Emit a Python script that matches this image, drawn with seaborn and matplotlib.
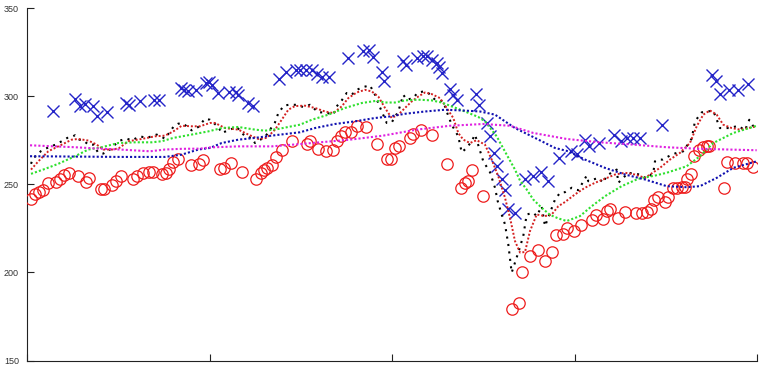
import matplotlib
matplotlib.use("Agg")
import matplotlib.pyplot as plt
import seaborn as sns

# ---- data (x in axis units 0..200, y in value units) ----
circle_x = [0.93, 2.11, 3.29, 4.38, 5.59, 7.78, 8.96, 10.14, 11.51, 13.81,
            16.08, 16.99, 20.19, 21.1, 23.12, 24.38, 25.59, 28.88, 29.97, 31.78,
            33.34, 34.36, 36.82, 37.92, 38.9, 39.84, 41.21, 44.77, 47.04, 48.05,
            52.79, 53.89, 55.73, 58.9, 62.74, 63.95, 64.85, 65.75, 66.96, 68.05,
            69.86, 72.44, 76.6, 77.34, 79.73, 81.84, 83.84, 84.93, 85.86, 87.05,
            88.68, 90.25, 92.74, 95.73, 98.63, 99.64, 100.74, 101.84, 104.85, 105.75,
            107.78, 110.79, 114.9, 118.74, 119.92, 120.82, 121.75, 124.77, 132.71, 134.79,
            135.62, 137.75, 139.84, 141.84, 143.67, 144.77, 146.85, 147.81, 149.78, 151.7,
            154.79, 155.81, 157.86, 158.79, 159.64, 161.75, 163.75, 166.68, 168.49, 169.7,
            170.88, 171.7, 172.79, 174.71, 175.62, 176.99, 177.92, 179.32, 180.19, 180.82,
            181.84, 182.74, 184.11, 185.21, 186.3, 186.85, 190.88, 191.62, 193.89, 196.0,
            197.1, 198.74]
circle_y = [241.8, 244.8, 245.6, 247.1, 250.7, 251.5, 252.8, 255.6, 256.7, 254.6,
            251.2, 253.7, 247.5, 247.5, 249.4, 252.2, 254.6, 253.3, 255.0, 256.6,
            257.3, 257.3, 256.0, 256.6, 258.8, 263.0, 264.5, 261.1, 261.4, 264.1,
            258.8, 259.4, 262.2, 257.1, 253.3, 256.6, 258.0, 259.4, 260.9, 265.6,
            269.8, 274.5, 273.2, 274.5, 270.3, 268.8, 269.4, 274.5, 277.3, 279.8,
            279.8, 283.0, 282.4, 273.2, 264.7, 264.7, 270.7, 272.0, 276.4, 278.8,
            280.7, 277.9, 261.3, 248.1, 250.9, 251.8, 258.0, 243.3, 179.1, 182.4,
            200.3, 209.3, 212.7, 206.5, 211.8, 221.1, 222.0, 225.4, 223.5, 226.9,
            229.7, 232.4, 230.1, 234.8, 236.2, 230.7, 234.5, 233.5, 233.5, 234.5,
            236.2, 241.4, 242.7, 239.9, 243.0, 247.7, 248.1, 248.4, 248.4, 253.3,
            256.0, 266.4, 269.8, 271.1, 271.6, 271.6, 248.1, 262.6, 262.2, 262.2,
            262.2, 259.7]

cross_x = [6.96, 13.07, 14.44, 15.81, 17.92, 19.01, 21.92, 27.04, 27.95, 30.88,
           34.79, 36.0, 42.11, 43.01, 43.95, 46.22, 48.88, 49.78, 50.68, 52.33,
           55.34, 57.18, 57.81, 60.55, 61.92, 69.04, 70.88, 73.62, 74.71, 76.36,
           77.92, 79.29, 80.66, 82.74, 87.78, 91.89, 93.7, 94.79, 97.1, 97.81,
           103.01, 103.75, 106.68, 108.33, 109.42, 110.79, 112.16, 112.88, 113.53, 115.81,
           116.71, 117.64, 122.93, 123.84, 125.86, 126.77, 127.86, 128.82, 129.97, 130.88,
           131.7, 133.62, 136.36, 138.55, 140.74, 142.66, 145.81, 148.96, 150.68, 152.79,
           153.97, 156.71, 160.74, 162.58, 164.22, 166.03, 167.86, 173.81, 187.67, 188.68,
           189.78, 192.33, 194.79, 197.53]
cross_y = [291.8, 298.5, 294.8, 295.5, 294.7, 288.6, 291.1, 296.2, 295.2, 297.5,
           298.1, 297.7, 304.7, 303.7, 303.3, 303.7, 307.5, 307.9, 306.2, 301.9,
           302.2, 302.2, 300.9, 296.5, 294.3, 309.8, 314.1, 315.1, 315.1, 315.1,
           315.1, 312.8, 310.9, 310.9, 321.7, 325.8, 326.4, 322.6, 314.1, 308.8,
           320.2, 317.9, 321.7, 323.0, 323.0, 320.7, 318.9, 316.9, 313.2, 304.3,
           300.9, 298.1, 301.3, 295.3, 284.9, 277.5, 267.8, 260.7, 253.0, 247.1,
           236.3, 233.9, 253.2, 254.5, 256.9, 251.8, 265.2, 268.8, 267.5, 275.0,
           272.0, 273.5, 278.3, 274.5, 276.4, 276.4, 276.4, 283.9, 312.2, 308.8,
           301.3, 303.7, 303.7, 307.0]

black_x = [1.01, 1.64, 2.58, 3.67, 5.04, 6.41, 7.78, 9.42, 10.96, 11.89,
           13.07, 14.25, 15.34, 16.71, 18.08, 19.45, 20.82, 22.66, 24.03, 25.4,
           27.23, 28.6, 30.88, 32.71, 35.45, 37.73, 40.0, 41.37, 42.74, 45.04,
           46.85, 48.68, 50.05, 52.33, 53.26, 55.53, 57.37, 59.64, 61.48, 62.38,
           64.66, 65.59, 67.86, 68.77, 70.33, 71.7, 73.81, 75.62, 77.45, 79.73,
           81.56, 83.84, 84.77, 86.14, 87.51, 88.88, 90.25, 92.05, 93.89, 95.26,
           96.63, 98.47, 99.84, 101.64, 103.01, 103.95, 105.75, 106.85, 108.49, 109.86,
           111.7, 113.97, 114.9, 116.27, 118.08, 119.01, 120.38, 121.75, 122.66, 124.93,
           126.77, 128.14, 128.88, 129.97, 130.88, 131.78, 132.71, 134.52, 135.89, 136.82,
           138.63, 139.56, 140.93, 141.84, 144.58, 145.95, 147.32, 149.15, 150.96, 153.26,
           153.7, 156.44, 157.81, 158.74, 161.48, 161.92, 164.66, 167.86, 169.7, 171.51,
           171.97, 172.88, 174.08, 176.55, 177.92, 179.73, 182.03, 182.93, 184.77, 186.14,
           187.95, 189.78, 192.52, 194.79, 196.63, 197.81, 198.9]
black_y = [261.7, 265.1, 266.4, 268.8, 270.3, 271.6, 272.6, 274.5, 276.4, 276.7,
           277.9, 275.4, 275.0, 272.6, 272.6, 267.9, 267.5, 269.8, 272.6, 274.9,
           276.0, 275.0, 277.3, 276.4, 278.3, 276.0, 282.6, 284.5, 284.5, 280.7,
           282.6, 287.3, 286.7, 282.6, 279.2, 281.1, 282.6, 277.3, 276.4, 273.5,
           276.4, 278.3, 285.2, 290.5, 294.8, 295.2, 295.2, 293.9, 295.2, 290.9,
           290.9, 289.6, 294.3, 297.7, 301.9, 300.9, 303.7, 305.3, 306.2, 300.9,
           293.7, 284.9, 285.2, 291.4, 300.9, 298.1, 299.0, 301.9, 302.8, 301.9,
           298.1, 297.1, 291.4, 283.9, 277.3, 268.2, 270.7, 274.5, 278.3, 263.1,
           256.9, 248.1, 240.5, 232.9, 227.3, 216.0, 199.9, 211.3, 220.7, 232.9,
           233.9, 232.0, 237.6, 226.3, 241.4, 245.2, 245.6, 248.1, 246.7, 255.0,
           251.8, 253.7, 250.9, 255.0, 258.4, 250.9, 256.6, 255.6, 253.3, 256.6,
           263.1, 264.1, 264.1, 266.9, 267.9, 268.8, 276.0, 285.8, 290.9, 291.4,
           291.8, 282.0, 282.0, 283.3, 280.7, 286.7, 283.0]

red_x = [1.01, 3.01, 5.75, 8.49, 12.16, 13.97, 16.71, 19.01, 20.82, 23.56,
         25.21, 27.67, 31.34, 34.99, 37.73, 40.0, 42.3, 45.04, 47.32, 50.05,
         51.42, 54.16, 57.81, 60.55, 63.29, 65.59, 67.86, 69.7, 71.51, 73.34,
         76.08, 78.82, 81.56, 83.84, 86.14, 87.95, 90.25, 92.52, 94.36, 96.16,
         98.0, 99.84, 101.64, 103.48, 105.32, 107.12, 108.96, 110.79, 113.07, 114.9,
         116.71, 118.08, 119.45, 121.29, 123.12, 125.4, 127.23, 129.04, 130.88, 132.25,
         133.62, 134.99, 136.36, 137.73, 139.56, 141.84, 143.67, 145.48, 147.32, 150.05,
         152.79, 155.53, 158.27, 161.01, 163.75, 166.49, 169.23, 171.97, 173.34, 176.08,
         178.82, 181.56, 183.4, 185.21, 187.04, 188.88, 190.68, 192.99, 195.26, 197.53,
         199.84]
red_y = [258.4, 263.1, 268.8, 271.6, 275.4, 275.8, 274.9, 272.6, 269.8, 269.8,
         270.7, 274.5, 275.8, 277.3, 277.7, 280.1, 283.3, 283.0, 283.0, 284.9,
         284.9, 282.0, 281.1, 278.3, 275.8, 276.4, 281.1, 286.7, 292.4, 294.5,
         294.7, 293.4, 291.4, 290.5, 294.3, 299.0, 302.2, 303.7, 302.8, 299.9,
         293.4, 287.7, 289.6, 293.4, 297.1, 299.9, 302.2, 301.3, 299.0, 293.4,
         287.7, 279.2, 275.4, 273.5, 275.1, 272.6, 264.1, 254.6, 242.4, 231.1,
         217.8, 211.3, 211.6, 223.5, 232.9, 232.0, 232.9, 237.6, 240.0, 244.3,
         248.1, 250.9, 253.2, 255.6, 256.6, 255.6, 253.7, 257.5, 259.4, 264.1,
         267.9, 273.5, 283.0, 289.6, 292.0, 289.6, 283.9, 282.0, 281.1, 282.0,
         283.0]

green_x = [1.01, 4.85, 8.49, 13.07, 16.71, 20.38, 24.93, 29.51, 34.08, 36.82,
           40.0, 45.04, 49.59, 53.26, 57.81, 62.38, 65.12, 68.77, 72.44, 74.71,
           77.92, 82.47, 87.04, 91.62, 95.73, 98.0, 100.74, 103.48, 107.12, 110.79,
           113.53, 116.27, 119.92, 123.56, 125.4, 128.6, 131.34, 133.62, 134.99, 136.82,
           138.63, 140.93, 143.21, 145.48, 147.78, 151.42, 154.63, 158.27, 162.85, 167.4,
           171.97, 175.18, 180.66, 184.3, 187.95, 193.42, 199.84]
green_y = [256.0, 258.8, 261.7, 266.0, 269.8, 271.1, 273.5, 273.9, 273.9, 274.5,
           276.4, 278.3, 280.1, 282.0, 282.6, 281.1, 280.5, 281.5, 283.0, 283.9,
           286.7, 289.6, 293.4, 296.2, 297.5, 296.5, 296.5, 297.7, 298.1, 297.7,
           296.5, 294.3, 291.4, 288.3, 285.8, 277.3, 266.9, 258.4, 252.2, 247.1,
           241.4, 236.7, 232.7, 230.7, 229.2, 232.0, 237.6, 243.3, 249.0, 253.2,
           255.0, 256.6, 260.3, 266.0, 273.5, 279.2, 283.3]

blue_x = [0.74, 25.4, 37.73, 42.3, 46.85, 50.05, 53.26, 57.81, 62.38, 66.96,
          74.71, 78.82, 84.3, 89.78, 95.26, 99.37, 103.48, 108.96, 114.44, 119.01,
          124.03, 128.14, 133.62, 139.1, 144.58, 148.22, 152.79, 158.27, 163.75, 169.23,
          175.18, 180.66, 184.3, 188.88, 193.42, 199.84]
blue_y = [266.0, 265.6, 265.6, 266.9, 269.8, 270.7, 273.5, 275.4, 276.4, 277.7,
          279.6, 282.0, 284.3, 285.8, 287.7, 288.6, 290.1, 291.4, 292.4, 292.0,
          291.4, 289.6, 282.0, 276.4, 270.7, 268.8, 264.1, 259.4, 255.6, 252.8,
          249.0, 248.4, 249.0, 253.7, 259.4, 263.1]

magenta_x = [0.74, 13.07, 19.92, 25.4, 33.62, 37.73, 42.3, 47.32, 50.05, 57.81,
             66.96, 74.71, 88.41, 97.53, 106.68, 115.81, 124.93, 132.25, 138.63, 147.78,
             156.9, 166.03, 175.18, 184.3, 199.84]
magenta_y = [272.2, 271.1, 270.3, 269.8, 268.8, 269.8, 270.2, 270.3, 271.0, 271.6,
             271.6, 272.9, 275.4, 277.7, 281.1, 283.3, 284.3, 283.3, 279.2, 275.8,
             273.9, 272.6, 271.1, 270.2, 269.4]

x_ticks = [0, 50, 100, 150, 200]
y_ticks = [150, 200, 250, 300, 350]

# ---- style ----
sns.set_theme(style="ticks")
plt.rcParams['font.family'] = ['Liberation Sans', 'DejaVu Sans']

fig = plt.figure(figsize=(7.61, 3.67), dpi=100)
ax = fig.add_axes([0.0359, 0.0177, 0.9592, 0.9597])

dot = (0, (1.0, 1.0))

sns.lineplot(x=circle_x, y=circle_y, ax=ax, estimator=None, sort=False,
             linestyle='none', marker='o', markersize=8.2,
             markerfacecolor='none', markeredgecolor='#ee1c1c',
             markeredgewidth=0.9, color='#ee1c1c', zorder=3)
sns.lineplot(x=cross_x, y=cross_y, ax=ax, estimator=None, sort=False,
             linestyle='none', marker='x', markersize=8.0,
             markeredgecolor='#2424c8', markeredgewidth=1.0,
             color='#2424c8', zorder=3)
sns.lineplot(x=black_x, y=black_y, ax=ax, estimator=None, sort=False,
             color='black', linewidth=1.5, linestyle=(0, (1.0, 2.6)), zorder=4)
sns.lineplot(x=red_x, y=red_y, ax=ax, estimator=None, sort=False,
             color='#d42020', linewidth=1.4, linestyle=dot, zorder=5)
sns.lineplot(x=green_x, y=green_y, ax=ax, estimator=None, sort=False,
             color='#2ee02e', linewidth=1.5, linestyle=dot, zorder=5)
sns.lineplot(x=blue_x, y=blue_y, ax=ax, estimator=None, sort=False,
             color='#1010b0', linewidth=1.5, linestyle=dot, zorder=5)
sns.lineplot(x=magenta_x, y=magenta_y, ax=ax, estimator=None, sort=False,
             color='#e020e0', linewidth=1.5, linestyle=dot, zorder=5)

ax.set_xlim(0, 200)
ax.set_ylim(150, 350)
ax.set_xticks(x_ticks)
ax.set_xticklabels([])
ax.set_yticks(y_ticks)
ax.set_yticklabels([str(v) for v in y_ticks])
ax.set_xlabel('')
ax.set_ylabel('')
ax.grid(False)
sns.despine(ax=ax)
for s in ('left', 'bottom'):
    ax.spines[s].set_color('#222222')
    ax.spines[s].set_linewidth(0.8)
ax.tick_params(axis='both', direction='in', length=5, width=0.8,
               color='#222222', labelcolor='#333333', labelsize=6.5, pad=6)

fig.savefig('out.png', dpi=100)
